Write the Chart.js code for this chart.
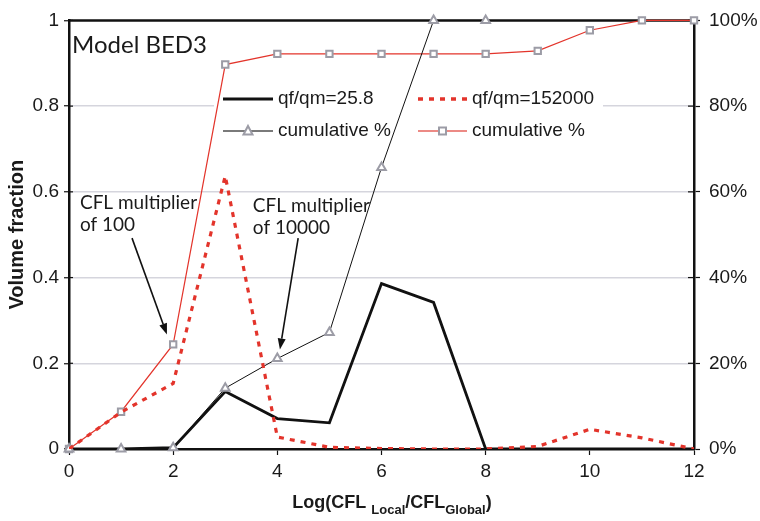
<!DOCTYPE html>
<html>
<head>
<meta charset="utf-8">
<script src="https://cdn.jsdelivr.net/npm/chart.js@4.4.0/dist/chart.umd.min.js"></script>
<style>
  html, body { margin: 0; padding: 0; background: #fff; }
</style>
</head>
<body>
<canvas id="chart" width="760" height="521"></canvas>
<script>
/* DATOS */
const logRatio = [0, 1, 2, 3, 4, 5, 6, 7, 8, 9, 10, 11, 12];
const fracLow = [0, 0, 0.003, 0.134, 0.071, 0.061, 0.386, 0.342, 0, 0, 0, 0, 0];        // qf/qm=25.8
const fracHigh = [0, 0.086, 0.153, 0.637, 0.028, 0.004, 0.001, 0, 0, 0.006, 0.046, 0.026, 0]; // qf/qm=152000
const cumLow = [0, 0, 0.3, 14.2, 21.1, 27.2, 65.7, 100, 100];                          // %
const cumHigh = [0, 8.7, 24.4, 89.7, 92.2, 92.2, 92.2, 92.2, 92.2, 92.9, 97.7, 100, 100];  // %
const seriesLabels = ["qf/qm=25.8", "qf/qm=152000", "cumulative %", "cumulative %"];
const yTicks = [0, 0.2, 0.4, 0.6, 0.8, 1];
const yTickLabels = ["0", "0.2", "0.4", "0.6", "0.8", "1"];
const y2Ticks = [0, 20, 40, 60, 80, 100];

const RED = "#e3342b";
const GREY = "#9c9ca6";
const TXT = "#1a1a1a";
const SANS = "'Liberation Sans', Arial, sans-serif";
const MYRIAD = "Lato, 'Open Sans', sans-serif";

function pts(ys) {
  return ys.map((y, i) => ({ x: logRatio[i], y }));
}

/* ANOTACIONES (en unidades de datos, eje izquierdo) */
const notes = [
  { lines: ["CFL multiplier", "of 100"], x: 0.21, y: 0.561, tail: [1.21, 0.492], tip: [1.88, 0.267] },
  { lines: ["CFL multiplier", "of 10000"], x: 3.53, y: 0.554, tail: [4.40, 0.492], tip: [4.05, 0.232] }
];

function arrow(ctx, x1, y1, x2, y2) {
  const ang = Math.atan2(y2 - y1, x2 - x1);
  const len = 11, half = 4;
  const bx = x2 - len * Math.cos(ang), by = y2 - len * Math.sin(ang);
  ctx.beginPath();
  ctx.moveTo(x1, y1);
  ctx.lineTo(bx, by);
  ctx.stroke();
  ctx.beginPath();
  ctx.moveTo(x2, y2);
  ctx.lineTo(bx + half * Math.sin(ang), by - half * Math.cos(ang));
  ctx.lineTo(bx - half * Math.sin(ang), by + half * Math.cos(ang));
  ctx.closePath();
  ctx.fill();
}

function marker(ctx, style, x, y) {
  ctx.save();
  ctx.strokeStyle = GREY;
  ctx.fillStyle = "#fff";
  ctx.lineWidth = 2;
  ctx.beginPath();
  if (style === "triangle") {
    ctx.moveTo(x, y - 5);
    ctx.lineTo(x + 4.5, y + 3.5);
    ctx.lineTo(x - 4.5, y + 3.5);
    ctx.closePath();
  } else {
    ctx.rect(x - 3.5, y - 3.5, 7, 7);
  }
  ctx.fill();
  ctx.stroke();
  ctx.restore();
}

const overlay = {
  id: "overlay",
  beforeDatasetsDraw(chart) {
    const { ctx, chartArea: a, scales } = chart;
    ctx.save();

    // marco superior
    ctx.strokeStyle = "#111";
    ctx.lineWidth = 2.5;
    ctx.beginPath();
    ctx.moveTo(a.left - 1, a.top);
    ctx.lineTo(a.right + 1, a.top);
    ctx.stroke();

    // marcas interiores de los ejes verticales
    ctx.lineWidth = 1.2;
    yTicks.forEach(v => {
      const py = scales.y.getPixelForValue(v);
      ctx.beginPath(); ctx.moveTo(a.left, py); ctx.lineTo(a.left + 4, py); ctx.stroke();
    });
    y2Ticks.forEach(v => {
      const py = scales.y2.getPixelForValue(v);
      ctx.beginPath(); ctx.moveTo(a.right - 6, py); ctx.lineTo(a.right, py); ctx.stroke();
    });

    // leyenda
    ctx.fillStyle = "#fff";
    ctx.fillRect(214, 84, 389, 62);
    const rows = [99, 131];
    const cols = [[223, 273, 278], [418, 467, 472]];
    ctx.lineCap = "butt";

    // qf/qm=25.8
    ctx.strokeStyle = "#111"; ctx.lineWidth = 3;
    ctx.beginPath(); ctx.moveTo(cols[0][0], rows[0]); ctx.lineTo(cols[0][1], rows[0]); ctx.stroke();
    // qf/qm=152000
    ctx.strokeStyle = RED; ctx.lineWidth = 3.5; ctx.setLineDash([5, 6]);
    ctx.beginPath(); ctx.moveTo(cols[1][0], rows[0]); ctx.lineTo(cols[1][1], rows[0]); ctx.stroke();
    ctx.setLineDash([]);
    // cumulative % (gris)
    ctx.strokeStyle = "#7a7a7a"; ctx.lineWidth = 2;
    ctx.beginPath(); ctx.moveTo(cols[0][0], rows[1]); ctx.lineTo(cols[0][1], rows[1]); ctx.stroke();
    marker(ctx, "triangle", (cols[0][0] + cols[0][1]) / 2, rows[1]);
    // cumulative % (rojo)
    ctx.strokeStyle = "#ec8a85"; ctx.lineWidth = 2;
    ctx.beginPath(); ctx.moveTo(cols[1][0], rows[1]); ctx.lineTo(cols[1][1], rows[1]); ctx.stroke();
    marker(ctx, "rect", (cols[1][0] + cols[1][1]) / 2, rows[1]);

    ctx.fillStyle = TXT;
    ctx.font = "19px " + SANS;
    ctx.textBaseline = "middle";
    ctx.fillText(seriesLabels[0], cols[0][2], rows[0]);
    ctx.fillText(seriesLabels[1], cols[1][2], rows[0]);
    ctx.fillText(seriesLabels[2], cols[0][2], rows[1]);
    ctx.fillText(seriesLabels[3], cols[1][2], rows[1]);
    ctx.restore();
  },
  afterDatasetsDraw(chart) {
    const { ctx, chartArea: a, scales } = chart;
    const X = v => scales.x.getPixelForValue(v);
    const Y = v => scales.y.getPixelForValue(v);
    ctx.save();
    ctx.fillStyle = TXT;
    ctx.textBaseline = "alphabetic";

    // titulo interno
    ctx.font = "24px " + MYRIAD;
    ctx.fillText("Model BED3", a.left + 3, a.top + 33);

    // anotaciones con flechas
    ctx.font = "19px " + MYRIAD;
    notes.forEach(n => {
      n.lines.forEach((t, i) => ctx.fillText(t, X(n.x), Y(n.y) + i * 22.5));
      ctx.strokeStyle = "#111";
      ctx.fillStyle = "#111";
      ctx.lineWidth = 1.6;
      arrow(ctx, X(n.tail[0]), Y(n.tail[1]), X(n.tip[0]), Y(n.tip[1]));
      ctx.fillStyle = TXT;
    });

    // titulo eje Y
    ctx.save();
    ctx.translate(23, (a.top + a.bottom) / 2);
    ctx.rotate(-Math.PI / 2);
    ctx.font = "bold 20px " + SANS;
    ctx.textAlign = "center";
    ctx.fillText("Volume fraction", 0, 0);
    ctx.restore();

    // titulo eje X con subindices
    const parts = [
      ["Log(CFL ", 18, 0], ["Local", 13, 6], ["/CFL", 18, 0], ["Global", 13, 6], [")", 18, 0]
    ];
    let total = 0;
    parts.forEach(p => { ctx.font = "bold " + p[1] + "px " + SANS; total += ctx.measureText(p[0]).width; });
    let cx = 392 - total / 2;
    const base = 508;
    parts.forEach(p => {
      ctx.font = "bold " + p[1] + "px " + SANS;
      ctx.fillText(p[0], cx, base + p[2]);
      cx += ctx.measureText(p[0]).width;
    });
    ctx.restore();
  }
};

const tickFont = { family: SANS, size: 19 };

new Chart(document.getElementById("chart"), {
  type: "line",
  data: {
    datasets: [
      {
        label: seriesLabels[0], data: pts(fracLow), yAxisID: "y", order: 3,
        borderColor: "#111", borderWidth: 2.8, pointRadius: 0, tension: 0
      },
      {
        label: seriesLabels[1], data: pts(fracHigh), yAxisID: "y", order: 1,
        borderColor: RED, borderWidth: 3.2, borderDash: [5, 6], pointRadius: 0, tension: 0
      },
      {
        label: seriesLabels[2], data: pts(cumLow), yAxisID: "y2", order: 2, clip: false,
        borderColor: "#111", borderWidth: 1, tension: 0,
        pointStyle: "triangle", pointRadius: 5, pointBorderColor: GREY,
        pointBackgroundColor: "#fff", pointBorderWidth: 2
      },
      {
        label: seriesLabels[3], data: pts(cumHigh), yAxisID: "y2", order: 4, clip: false,
        borderColor: RED, borderWidth: 1.2, tension: 0,
        pointStyle: "rect", pointRadius: 4.5, pointBorderColor: GREY,
        pointBackgroundColor: "#fff", pointBorderWidth: 2
      }
    ]
  },
  options: {
    responsive: false,
    animation: false,
    devicePixelRatio: 1,
    layout: { padding: { top: 14, left: 0, right: 0, bottom: 0 } },
    plugins: { legend: { display: false }, tooltip: { enabled: false } },
    scales: {
      x: {
        type: "linear", min: 0, max: 12,
        ticks: { stepSize: 2, font: tickFont, color: TXT, padding: 5, maxRotation: 0 },
        grid: { drawOnChartArea: false, tickLength: 6, tickColor: "#111", tickWidth: 1.2 },
        border: { color: "#111", width: 2.5 },
        afterFit: s => { s.height = 72; }
      },
      y: {
        position: "left", min: 0, max: 1,
        afterBuildTicks: s => { s.ticks = yTicks.map(v => ({ value: v })); },
        ticks: { font: tickFont, color: TXT, padding: 5, callback: (v, i) => yTickLabels[i] },
        grid: {
          color: c => (c.tick && c.tick.value > 0 && c.tick.value < 1) ? "#d5d5dd" : "rgba(0,0,0,0)",
          lineWidth: 1.5, tickLength: 5, tickColor: "#111", tickWidth: 1.2
        },
        border: { color: "#111", width: 2.5 },
        afterFit: s => { s.width = 69; }
      },
      y2: {
        position: "right", min: 0, max: 100,
        afterBuildTicks: s => { s.ticks = y2Ticks.map(v => ({ value: v })); },
        ticks: { font: tickFont, color: TXT, padding: 9, callback: v => v + "%" },
        grid: { drawOnChartArea: false, tickLength: 6, tickColor: "#111", tickWidth: 1.2 },
        border: { color: "#111", width: 2.5 },
        afterFit: s => { s.width = 66; }
      }
    }
  },
  plugins: [overlay]
});
</script>
</body>
</html>
